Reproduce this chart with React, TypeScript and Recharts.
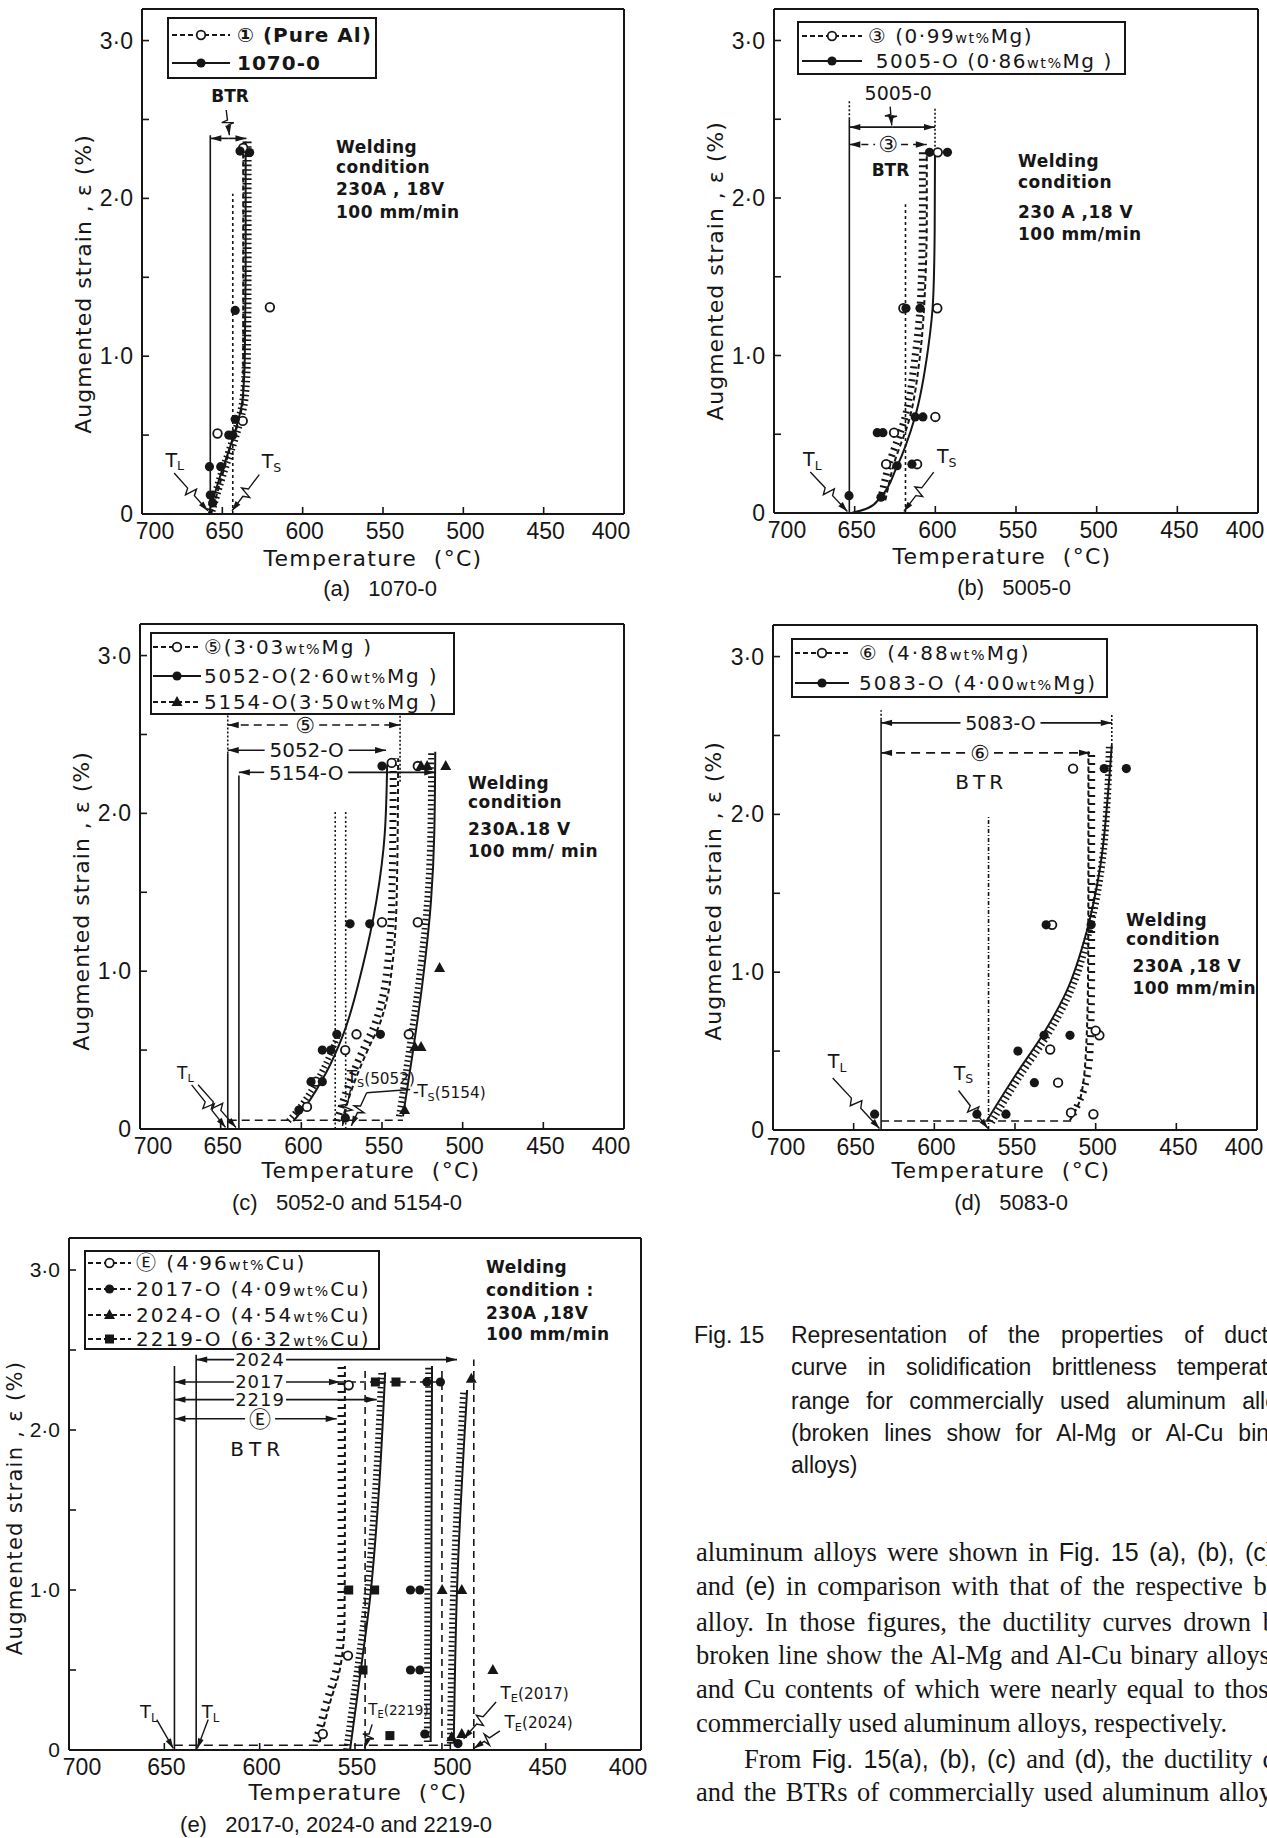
import React from "react";
import { ComposedChart, Line, Scatter, XAxis, YAxis, ReferenceLine, ReferenceDot } from "recharts";

type P = { t: number; e: number };
type Box = { x: number; y: number; w: number; h: number };

const INK = "#161616";
const FIG = "'DejaVu Sans', 'Noto Sans CJK JP', sans-serif";
const SANS = "'Liberation Sans', Arial, sans-serif";
const SERIF = "'Liberation Serif', 'Times New Roman', serif";

const tempTicks = [700, 650, 600, 550, 500, 450, 400];
const strainTicks = [0, 0.5, 1, 1.5, 2, 2.5, 3];

// (a) 1070-O against pure Al
const aPureAl: P[] = [{ t: 653, e: 0.51 }, { t: 637.3, e: 0.59 }, { t: 620.4, e: 1.31 }, { t: 637, e: 2.32 }];
const a1070: P[] = [
  { t: 658, e: 0.3 }, { t: 657.5, e: 0.12 }, { t: 656, e: 0.07 }, { t: 651, e: 0.3 }, { t: 646, e: 0.5 },
  { t: 643.5, e: 0.5 }, { t: 642, e: 0.6 }, { t: 642, e: 1.29 }, { t: 639, e: 2.3 }, { t: 633, e: 2.29 },
];
const aCurve1070: P[] = [
  { t: 658.5, e: 0 }, { t: 655, e: 0.12 }, { t: 651, e: 0.25 }, { t: 646, e: 0.4 }, { t: 641, e: 0.56 },
  { t: 637.5, e: 0.72 }, { t: 636, e: 1.0 }, { t: 635.5, e: 1.6 }, { t: 635.5, e: 2.36 },
];
const aCurvePure: P[] = [
  { t: 657, e: 0 }, { t: 653, e: 0.14 }, { t: 648.5, e: 0.3 }, { t: 644, e: 0.46 }, { t: 639.5, e: 0.6 },
  { t: 637, e: 0.75 }, { t: 637, e: 1.2 }, { t: 637, e: 2.3 },
];
const aHatch: P[] = [
  { t: 657, e: 0.02 }, { t: 653.5, e: 0.14 }, { t: 649.5, e: 0.27 }, { t: 644.5, e: 0.42 }, { t: 640, e: 0.57 },
  { t: 636.5, e: 0.73 }, { t: 635, e: 1.0 }, { t: 634.6, e: 1.6 }, { t: 634.6, e: 2.38 },
];

// (b) 5005-O against alloy 3
const bBin: P[] = [
  { t: 625.6, e: 0.51 }, { t: 630.5, e: 0.31 }, { t: 611.3, e: 0.31 }, { t: 600, e: 0.61 },
  { t: 598.8, e: 1.3 }, { t: 598.5, e: 2.29 }, { t: 619.8, e: 1.3 },
];
const b5005: P[] = [
  { t: 653.5, e: 0.11 }, { t: 633.7, e: 0.1 }, { t: 623.7, e: 0.3 }, { t: 614.5, e: 0.31 }, { t: 636, e: 0.51 },
  { t: 632.5, e: 0.51 }, { t: 618.2, e: 1.3 }, { t: 609.5, e: 1.3 }, { t: 612.5, e: 0.61 }, { t: 607.7, e: 0.61 },
  { t: 603.6, e: 2.29 }, { t: 592.5, e: 2.29 },
];
const bCurve5005: P[] = [
  { t: 652, e: 0 }, { t: 642, e: 0.03 }, { t: 634, e: 0.1 }, { t: 624, e: 0.29 }, { t: 612.6, e: 0.61 },
  { t: 604.4, e: 1.05 }, { t: 601.3, e: 1.37 }, { t: 600.4, e: 1.8 }, { t: 600.2, e: 2.3 },
];
const bCurveBin: P[] = [
  { t: 631, e: 0.08 }, { t: 626, e: 0.3 }, { t: 616, e: 0.6 }, { t: 609.5, e: 1.0 }, { t: 606.5, e: 1.4 },
  { t: 605.3, e: 1.9 }, { t: 605.3, e: 2.3 },
];
const bHatchBin: P[] = [
  { t: 634, e: 0.08 }, { t: 629, e: 0.3 }, { t: 619, e: 0.6 }, { t: 612.5, e: 1.0 }, { t: 609, e: 1.4 },
  { t: 608, e: 1.9 }, { t: 608, e: 2.3 },
];

// (c) 5052-O and 5154-O against alloy 5
const cBin: P[] = [
  { t: 596.5, e: 0.14 }, { t: 591, e: 0.3 }, { t: 572.8, e: 0.5 }, { t: 565.8, e: 0.6 }, { t: 533.4, e: 0.6 },
  { t: 550, e: 1.31 }, { t: 527.8, e: 1.31 }, { t: 544, e: 2.32 }, { t: 527.8, e: 2.3 },
];
const c5052: P[] = [
  { t: 601.5, e: 0.12 }, { t: 594, e: 0.3 }, { t: 587, e: 0.3 }, { t: 587, e: 0.5 }, { t: 581.7, e: 0.5 },
  { t: 578, e: 0.6 }, { t: 569.8, e: 1.3 }, { t: 557.6, e: 1.3 }, { t: 551, e: 0.6 }, { t: 550, e: 2.3 },
  { t: 572.7, e: 0.07 },
];
const c5154: P[] = [
  { t: 536, e: 0.12 }, { t: 529.6, e: 0.52 }, { t: 525.8, e: 0.52 }, { t: 514.3, e: 1.02 },
  { t: 525.8, e: 2.3 }, { t: 522, e: 2.3 }, { t: 510.5, e: 2.3 },
];
const cCurve5052: P[] = [
  { t: 605, e: 0.05 }, { t: 597, e: 0.15 }, { t: 585, e: 0.35 }, { t: 574, e: 0.6 }, { t: 562, e: 1.03 },
  { t: 553.4, e: 1.45 }, { t: 548.3, e: 1.87 }, { t: 546.8, e: 2.31 },
];
const cHatch5052: P[] = [{ t: 608, e: 0.05 }, { t: 600, e: 0.15 }, { t: 588, e: 0.35 }, { t: 577, e: 0.6 }];
const cCurveBin: P[] = [
  { t: 575, e: 0.05 }, { t: 567, e: 0.3 }, { t: 558, e: 0.52 }, { t: 552, e: 0.65 }, { t: 547, e: 0.82 },
  { t: 543.5, e: 1.05 }, { t: 541.5, e: 1.3 }, { t: 540.5, e: 1.7 }, { t: 540, e: 2.35 },
];
const cHatchBin: P[] = [
  { t: 578, e: 0.05 }, { t: 570, e: 0.3 }, { t: 561, e: 0.52 }, { t: 555, e: 0.65 }, { t: 550, e: 0.82 },
  { t: 546.5, e: 1.05 }, { t: 544.5, e: 1.3 }, { t: 543.5, e: 1.7 }, { t: 543, e: 2.35 },
];
const cCurve5154: P[] = [
  { t: 537, e: 0.08 }, { t: 531, e: 0.48 }, { t: 525, e: 0.92 }, { t: 519.6, e: 1.45 }, { t: 517.6, e: 1.87 },
  { t: 517, e: 2.39 },
];
const cHatch5154: P[] = [
  { t: 539.5, e: 0.08 }, { t: 533.5, e: 0.48 }, { t: 527.5, e: 0.92 }, { t: 522, e: 1.45 }, { t: 520, e: 1.87 },
  { t: 519.5, e: 2.39 },
];

// (d) 5083-O against alloy 6
const dBin: P[] = [
  { t: 523.3, e: 0.3 }, { t: 528.2, e: 0.51 }, { t: 527, e: 1.3 }, { t: 497.7, e: 0.6 }, { t: 500, e: 0.63 },
  { t: 515.3, e: 0.11 }, { t: 501.4, e: 0.1 }, { t: 514, e: 2.29 },
];
const d5083: P[] = [
  { t: 637, e: 0.1 }, { t: 573.6, e: 0.1 }, { t: 555.6, e: 0.1 }, { t: 538, e: 0.3 }, { t: 548.2, e: 0.5 },
  { t: 532, e: 0.6 }, { t: 515.9, e: 0.6 }, { t: 530.7, e: 1.3 }, { t: 502.8, e: 1.3 }, { t: 494.7, e: 2.29 },
  { t: 481, e: 2.29 },
];
const dCurve5083: P[] = [
  { t: 567.4, e: 0.06 }, { t: 548.9, e: 0.36 }, { t: 532.4, e: 0.61 }, { t: 518, e: 0.88 }, { t: 505.5, e: 1.26 },
  { t: 497.3, e: 1.66 }, { t: 492.2, e: 2.15 }, { t: 490, e: 2.44 },
];
const dHatch5083: P[] = [
  { t: 564.5, e: 0.05 }, { t: 546.5, e: 0.35 }, { t: 530, e: 0.6 }, { t: 516, e: 0.87 }, { t: 504, e: 1.26 },
  { t: 496.5, e: 1.66 }, { t: 492.5, e: 2.15 }, { t: 491.5, e: 2.44 },
];
const dCurveBin: P[] = [
  { t: 516, e: 0.06 }, { t: 509.5, e: 0.2 }, { t: 506, e: 0.5 }, { t: 504.7, e: 1.0 }, { t: 504.5, e: 1.7 },
  { t: 504.5, e: 2.4 },
];
const dHatchBin: P[] = [
  { t: 514, e: 0.1 }, { t: 507.5, e: 0.25 }, { t: 503.5, e: 0.5 }, { t: 502.5, e: 1.0 }, { t: 502.5, e: 1.7 },
  { t: 502.5, e: 2.4 },
];

// (e) 2017-O, 2024-O, 2219-O against alloy E
const eBin: P[] = [{ t: 566.9, e: 0.1 }, { t: 553.7, e: 0.59 }, { t: 553.3, e: 2.28 }];
const e2017: P[] = [
  { t: 513.4, e: 0.1 }, { t: 520.9, e: 0.5 }, { t: 516, e: 0.5 }, { t: 520.9, e: 1.0 }, { t: 516, e: 1.0 },
  { t: 512.3, e: 2.3 }, { t: 505.2, e: 2.3 }, { t: 496, e: 0.04 },
];
const e2024: P[] = [
  { t: 504.3, e: 1.0 }, { t: 494, e: 1.0 }, { t: 477.7, e: 0.5 }, { t: 489, e: 2.32 }, { t: 494, e: 0.1 },
  { t: 499.3, e: 0.08 },
];
const e2219: P[] = [
  { t: 553.3, e: 1.0 }, { t: 539.7, e: 1.0 }, { t: 545.8, e: 0.5 }, { t: 531.7, e: 0.09 }, { t: 539.3, e: 2.3 },
  { t: 528.5, e: 2.3 },
];
const eCurveBin: P[] = [
  { t: 568.5, e: 0.05 }, { t: 563, e: 0.3 }, { t: 558, e: 0.5 }, { t: 555.5, e: 0.8 }, { t: 555.3, e: 1.5 },
  { t: 555.3, e: 2.4 },
];
const eHatchBin: P[] = [
  { t: 570.5, e: 0.05 }, { t: 565, e: 0.3 }, { t: 560, e: 0.5 }, { t: 557.5, e: 0.8 }, { t: 557.3, e: 1.5 },
  { t: 557.3, e: 2.4 },
];
const eCurve2219: P[] = [
  { t: 552.6, e: 0 }, { t: 550, e: 0.23 }, { t: 546.5, e: 0.54 }, { t: 542, e: 0.96 }, { t: 537.7, e: 1.58 },
  { t: 534.2, e: 2.36 },
];
const eHatch2219: P[] = [
  { t: 554.6, e: 0 }, { t: 552, e: 0.23 }, { t: 548.5, e: 0.54 }, { t: 544, e: 0.96 }, { t: 539.7, e: 1.58 },
  { t: 536.2, e: 2.36 },
];
const eCurve2017: P[] = [{ t: 510.3, e: 0.05 }, { t: 510, e: 1.0 }, { t: 509.6, e: 2.4 }];
const eHatch2017: P[] = [{ t: 512.3, e: 0.05 }, { t: 512, e: 1.0 }, { t: 511.6, e: 2.4 }];
const eCurve2024: P[] = [{ t: 498.2, e: 0.04 }, { t: 496.5, e: 1.0 }, { t: 491.2, e: 2.25 }];
const eHatch2024: P[] = [{ t: 500.2, e: 0.04 }, { t: 498.5, e: 1.0 }, { t: 493.2, e: 2.25 }];

// ---------- marks and helpers ----------
function mark(kind: string, cx: number, cy: number) {
  if (kind === "open") return <circle cx={cx} cy={cy} r={4.3} fill="#fff" stroke={INK} strokeWidth={1.8} />;
  if (kind === "full") return <circle cx={cx} cy={cy} r={4.6} fill={INK} />;
  if (kind === "tri") return <polygon points={`${cx},${cy - 6} ${cx - 5.5},${cy + 4} ${cx + 5.5},${cy + 4}`} fill={INK} />;
  return <rect x={cx - 4.5} y={cy - 4.5} width={9} height={9} fill={INK} />;
}
const shapeOf = (kind: string) => (p: any) => mark(kind, p.cx, p.cy);

const curve = (id: string, data: P[], dash?: string, w = 2) => (
  <Line key={id} data={data} dataKey="e" type="monotoneY" stroke={INK} strokeWidth={w} strokeDasharray={dash}
    dot={false} activeDot={false} isAnimationActive={false} />
);
const hatch = (id: string, data: P[], dash = "1.6 3", w = 8) => curve(id, data, dash, w);
const dots = (id: string, data: P[], kind: string) => (
  <Scatter key={id} data={data} shape={shapeOf(kind)} isAnimationActive={false} />
);
const seg = (id: string, a: number[], b: number[], dash?: string, w = 1.6) => (
  <ReferenceLine key={id} segment={[{ x: a[0], y: a[1] }, { x: b[0], y: b[1] }]} stroke={INK} strokeWidth={w}
    strokeDasharray={dash} ifOverflow="visible" />
);

function head(x: number, y: number, ux: number, uy: number, len = 11, half = 3.2) {
  const bx = x - ux * len, by = y - uy * len;
  const nx = -uy, ny = ux;
  return <polygon points={`${x},${y} ${bx + nx * half},${by + ny * half} ${bx - nx * half},${by - ny * half}`} fill={INK} />;
}

const bracket = (id: string, t0: number, t1: number, e: number, label?: any, tl?: number, gap = 0,
  o: { dash?: string; fs?: number; ls?: number } = {}) => {
  const frac = tl === undefined ? 0.5 : (t0 - tl) / (t0 - t1);
  const shape = (p: any) => {
    const xa = p.x1, xb = p.x2, y = p.y1;
    const xm = xa + (xb - xa) * frac;
    const g = label ? gap / 2 : 0;
    return (
      <g>
        <line x1={xa} y1={y} x2={xm - g} y2={y} stroke={INK} strokeWidth={1.6} strokeDasharray={o.dash} />
        <line x1={xm + g} y1={y} x2={xb} y2={y} stroke={INK} strokeWidth={1.6} strokeDasharray={o.dash} />
        {head(xa, y, -1, 0)}
        {head(xb, y, 1, 0)}
        {label ? (
          <text x={xm} y={y} dy="0.36em" textAnchor="middle" fontSize={o.fs ?? 20} fontFamily={FIG}
            letterSpacing={o.ls ?? 0} fill={INK}>{label}</text>
        ) : null}
      </g>
    );
  };
  return <ReferenceLine key={id} segment={[{ x: t0, y: e }, { x: t1, y: e }]} shape={shape} ifOverflow="visible" />;
};

const leader = (id: string, from: number[], to: number[], zig = true) => {
  const shape = (p: any) => {
    const { x1, y1, x2, y2 } = p;
    const dx = x2 - x1, dy = y2 - y1, L = Math.hypot(dx, dy) || 1;
    const ux = dx / L, uy = dy / L, nx = -uy, ny = ux;
    const pt = (f: number, off = 0) => `${x1 + dx * f + nx * off},${y1 + dy * f + ny * off}`;
    const d = zig
      ? `M${x1},${y1} L${pt(0.4)} L${pt(0.47, 6)} L${pt(0.53, -6)} L${pt(0.6)} L${x2},${y2}`
      : `M${x1},${y1} L${x2},${y2}`;
    return (
      <g>
        <path d={d} fill="none" stroke={INK} strokeWidth={1.4} />
        {head(x2, y2, ux, uy, 10, 3)}
      </g>
    );
  };
  return <ReferenceLine key={id} segment={[{ x: from[0], y: from[1] }, { x: to[0], y: to[1] }]} shape={shape} ifOverflow="visible" />;
};

const note = (id: string, t: number, e: number, content: any,
  o: { anchor?: string; fs?: number; bold?: boolean; ls?: number } = {}) => (
  <ReferenceDot key={id} x={t} y={e} r={0} ifOverflow="visible"
    shape={(p: any) => (
      <text x={p.cx} y={p.cy} textAnchor={(o.anchor ?? "start") as any} fontSize={o.fs ?? 18} fontFamily={FIG}
        fontWeight={o.bold ? 700 : 400} letterSpacing={o.ls ?? 0} fill={INK}>{content}</text>
    )} />
);

const sub = (m: string, s: string, rest?: string) => [
  <tspan key="m">{m}</tspan>,
  <tspan key="s" fontSize="0.66em" dy="0.3em">{s}</tspan>,
  rest ? <tspan key="r" fontSize="0.9em" dy="-0.2em">{rest}</tspan> : null,
];

const XTick = (p: any) => {
  const v = p.payload.value;
  const dx = v === 700 ? 13 : v === 400 ? -13 : 2;
  return (
    <text x={p.x + dx} y={p.y + 25} textAnchor="middle" fontSize={23} fontFamily={SANS} fill={INK}>{v}</text>
  );
};
const makeYTick = (fs: number) => (p: any) => {
  const v = p.payload.value;
  const s = v === 0 ? "0" : Number.isInteger(v) ? `${v}·0` : "";
  if (!s) return <g />;
  return (
    <text x={p.x - 9} y={p.y + fs * 0.35} textAnchor="end" fontSize={fs} fontFamily={SANS} fill={INK}>{s}</text>
  );
};
const YTick = makeYTick(23);
const YTickNarrow = makeYTick(21);

const axisLine = { stroke: INK, strokeWidth: 2 };
const tickLine = { stroke: INK, strokeWidth: 1.6 };

function Panel({ box, items, yTick = YTick }: { box: Box; items: any[]; yTick?: any }) {
  const W = box.w + 70;
  const H = box.h + 50;
  return (
    <div style={{ position: "absolute", left: box.x - 60, top: box.y - 10, width: W, height: H }}>
      <ComposedChart width={W} height={H} margin={{ top: 9, right: 9, bottom: 0, left: 0 }}>
        <XAxis xAxisId={0} type="number" dataKey="t" domain={[400, 700]} reversed allowDataOverflow ticks={tempTicks}
          interval={0} height={40} tickSize={-7} tickMargin={7} tick={XTick} axisLine={axisLine} tickLine={tickLine} />
        <XAxis xAxisId="top" orientation="top" type="number" dataKey="t" domain={[400, 700]} reversed allowDataOverflow
          ticks={tempTicks} interval={0} height={1} tickSize={-7} tick={false} axisLine={axisLine} tickLine={tickLine} />
        <YAxis yAxisId={0} type="number" dataKey="e" domain={[0, 3.2]} allowDataOverflow ticks={strainTicks} interval={0}
          width={60} tickSize={-7} tickMargin={7} tick={yTick} axisLine={axisLine} tickLine={tickLine} />
        <YAxis yAxisId="right" orientation="right" type="number" dataKey="e" domain={[0, 3.2]} allowDataOverflow
          ticks={strainTicks} interval={0} width={1} tickSize={-7} tick={false} axisLine={axisLine} tickLine={tickLine} />
        {items}
      </ComposedChart>
    </div>
  );
}

// ---------- panel contents ----------
const itemsA = [
  hatch("ah", aHatch, "1.6 3", 9),
  curve("ap", aCurvePure, "5 3"),
  curve("ac", aCurve1070),
  seg("atl", [657.5, 0], [657.5, 2.4]),
  seg("ats", [643.5, 0], [643.5, 2.03], "3 3"),
  bracket("ab", 657.5, 635, 2.38),
  note("abtr", 645.2, 2.61, "BTR", { anchor: "middle", fs: 17, bold: true }),
  leader("abl", [647.6, 2.56], [645.6, 2.4]),
  note("atlt", 685.4, 0.3, sub("T", "L"), { fs: 19 }),
  leader("atll", [680, 0.26], [659, 0.02]),
  note("atst", 625.5, 0.29, sub("T", "S"), { fs: 19 }),
  leader("atsl", [627, 0.25], [644, 0.02]),
  dots("aop", aPureAl, "open"),
  dots("afu", a1070, "full"),
];

const itemsB = [
  hatch("bh", bHatchBin, "2 4.5", 7),
  curve("bbn", bCurveBin, "5 3"),
  curve("bc", bCurve5005),
  seg("btl", [653.3, 0], [653.3, 2.5]),
  seg("btl2", [653.3, 2.5], [653.3, 2.62], "2 2"),
  seg("bend", [600.2, 2.3], [600.2, 2.58], "2 2"),
  seg("bts", [618.5, 0], [618.5, 1.96], "3 3"),
  bracket("bb1", 653.3, 600.2, 2.45),
  note("b5005", 623, 2.62, "5005-0", { anchor: "middle", fs: 19 }),
  leader("b5005l", [628, 2.58], [627, 2.46]),
  bracket("bb2", 653.3, 605.3, 2.34, "③", 629.3, 26, { dash: "7 5", fs: 22 }),
  note("bbtr", 627.8, 2.14, "BTR", { anchor: "middle", fs: 17, bold: true }),
  note("btlt", 682, 0.3, sub("T", "L"), { fs: 19 }),
  leader("btll", [677.5, 0.26], [654.5, 0.01]),
  note("btst", 599, 0.315, sub("T", "S"), { fs: 19 }),
  leader("btsl", [601, 0.26], [619.5, 0.01]),
  dots("bop", bBin, "open"),
  dots("bfu", b5005, "full"),
];

const itemsC = [
  hatch("ch1", cHatch5052, "1.6 3", 6),
  hatch("ch2", cHatchBin, "2 5", 7),
  hatch("ch3", cHatch5154, "1.6 3", 6),
  curve("cc1", cCurve5052),
  curve("cc2", cCurveBin, "5 3"),
  curve("cc3", cCurve5154),
  seg("ctl1", [645.6, 0], [645.6, 2.38]),
  seg("ctl1d", [645.6, 2.38], [645.6, 2.62], "2 2"),
  seg("ctl2", [638.7, 0], [638.7, 2.24]),
  seg("cend", [538.8, 2.2], [538.8, 2.62], "2 2"),
  seg("cts1", [579, 0], [579, 2.01], "2 2.5"),
  seg("cts2", [572.5, 0], [572.5, 2.01], "2 2.5"),
  seg("cbase", [645, 0.055], [537, 0.055], "8 5"),
  bracket("cb1", 645.6, 538.8, 2.56, "⑤", 597.6, 28, { dash: "8 5", fs: 22 }),
  bracket("cb2", 645.6, 547.5, 2.4, "5052-O", 596.7, 84),
  bracket("cb3", 638.7, 517, 2.26, "5154-O", 597, 84),
  note("ctlt", 677, 0.32, sub("T", "L"), { fs: 17 }),
  leader("ctll1", [668, 0.28], [647, 0.01]),
  leader("ctll2", [664, 0.28], [640.5, 0.01]),
  note("cts1t", 571.9, 0.29, sub("T", "S", "(5052)"), { fs: 17 }),
  leader("cts1l", [569.5, 0.25], [574.5, 0.02]),
  note("cts2t", 531, 0.2, ["-", ...sub("T", "S", "(5154)")], { fs: 17 }),
  seg("cts2h", [532.6, 0.25], [559.5, 0.23], undefined, 1.4),
  leader("cts2l", [559.5, 0.23], [569, 0.02]),
  dots("cop", cBin, "open"),
  dots("cfu", c5052, "full"),
  dots("ctr", c5154, "tri"),
];

const itemsD = [
  hatch("dh1", dHatch5083, "1.6 3", 7),
  hatch("dh2", dHatchBin, "2 6", 7),
  curve("dc1", dCurve5083),
  curve("dc2", dCurveBin, "5 3"),
  seg("dtl", [633, 0], [633, 2.6]),
  seg("dtld", [633, 2.6], [633, 2.66], "2 2"),
  seg("dend", [490, 2.44], [490, 2.64], "2 2"),
  seg("dts", [566.4, 0], [566.4, 1.99], "4 2 1 2"),
  seg("dbase", [633, 0.057], [515, 0.057], "8 5"),
  bracket("db1", 633, 490, 2.58, "5083-O", 559, 80, { fs: 19 }),
  bracket("db2", 633, 503.5, 2.39, "⑥", 571.7, 28, { dash: "9 6", fs: 22 }),
  note("dbtr", 571, 2.16, "BTR", { anchor: "middle", fs: 20, ls: 4 }),
  note("dtlt", 666, 0.39, sub("T", "L"), { fs: 19 }),
  leader("dtll", [663, 0.33], [634, 0.01]),
  note("dtst", 588, 0.32, sub("T", "S"), { fs: 19 }),
  leader("dtsl", [585, 0.25], [566.8, 0.01]),
  dots("dop", dBin, "open"),
  dots("dfu", d5083, "full"),
];

const itemsE = [
  hatch("eh0", eHatchBin, "2 6", 7),
  hatch("eh1", eHatch2219, "1.6 3", 6),
  hatch("eh2", eHatch2017, "1.6 3", 6),
  hatch("eh3", eHatch2024, "1.6 3", 6),
  curve("ec0", eCurveBin, "5 3"),
  curve("ec1", eCurve2219),
  curve("ec2", eCurve2017),
  curve("ec3", eCurve2024),
  seg("etl1", [644.7, 0], [644.7, 2.4]),
  seg("etl2", [633.3, 0], [633.3, 2.47]),
  seg("ete1", [544.7, 0], [544.7, 2.38], "7 5"),
  seg("ete2", [504.4, 0], [504.4, 2.38], "7 5"),
  seg("ete3", [487.7, 0], [487.7, 2.44], "7 5"),
  seg("ebase", [645, 0.03], [500, 0.03], "9 6"),
  seg("e2017x", [557.9, 2.3], [505, 2.3], "6 4"),
  bracket("eb1", 633.3, 496.5, 2.44, "2024", 599.8, 52, { fs: 18, ls: 1 }),
  bracket("eb2", 644.7, 557.9, 2.3, "2017", 599.8, 52, { fs: 18, ls: 1 }),
  bracket("eb3", 644.7, 538.6, 2.19, "2219", 599.8, 52, { fs: 18, ls: 1 }),
  bracket("eb4", 644.7, 559.6, 2.07, "Ⓔ", 599.8, 30, { fs: 22 }),
  note("ebtr", 601, 1.84, "BTR", { anchor: "middle", fs: 20, ls: 5 }),
  note("etl1t", 662.8, 0.2, sub("T", "L"), { fs: 18 }),
  leader("etl1l", [654, 0.19], [645.3, 0.01], false),
  note("etl2t", 630.4, 0.2, sub("T", "L"), { fs: 18 }),
  leader("etl2l", [627, 0.19], [632.7, 0.01], false),
  note("ete1t", 543, 0.22, sub("T", "E", "(2219)"), { fs: 15 }),
  leader("ete1l", [541, 0.16], [545, 0.01]),
  note("ete2t", 473.7, 0.32, sub("T", "E", "(2017)"), { fs: 17 }),
  leader("ete2l", [476, 0.3], [493, 0.07]),
  note("ete3t", 471.6, 0.14, sub("T", "E", "(2024)"), { fs: 17 }),
  leader("ete3l", [474, 0.12], [487.7, 0.01]),
  dots("eop", eBin, "open"),
  dots("efu", e2017, "full"),
  dots("etr", e2024, "tri"),
  dots("esq", e2219, "sq"),
];

// ---------- HTML text helpers ----------
const Txt = ({ x, y, children, fs = 20, center = true, ls = 0, weight = 400, family = FIG, rotate = false }: any) => (
  <div
    style={{
      position: "absolute", left: x, top: y, whiteSpace: "pre", fontSize: fs, fontFamily: family, fontWeight: weight,
      letterSpacing: ls, color: INK, lineHeight: 1,
      transform: `translate(${center ? "-50%" : "0"}, -50%)${rotate ? " rotate(-90deg)" : ""}`,
    }}
  >
    {children}
  </div>
);

const wt = (a: string, b: string, tail = "") => (
  <>({a}<span style={{ fontSize: "0.72em" }}>wt%</span>{b}{tail})</>
);

type Row = { kind: string; dashed: boolean; text: any };
function LegendBox({ x, y, w, h, rows, ys, sw, sx, tx, fs = 20, bold = false, ls = 1 }: any) {
  return (
    <div style={{ position: "absolute", left: x, top: y, width: w, height: h, border: `2px solid ${INK}`, boxSizing: "border-box", background: "#fff" }}>
      {(rows as Row[]).map((r, i) => (
        <div key={i} style={{ position: "absolute", left: 0, top: ys[i] - 14, height: 24, width: w - 4 }}>
          <svg style={{ position: "absolute", left: sx, top: 2 }} width={sw} height={20}>
            <line x1={0} y1={10} x2={sw} y2={10} stroke={INK} strokeWidth={2} strokeDasharray={r.dashed ? "5 3" : undefined} />
            {mark(r.kind, sw / 2, 10)}
          </svg>
          <div style={{ position: "absolute", left: tx, top: 0, lineHeight: "24px", fontSize: fs, fontFamily: FIG, fontWeight: bold ? 700 : 400, letterSpacing: ls, whiteSpace: "pre", color: INK }}>
            {r.text}
          </div>
        </div>
      ))}
    </div>
  );
}

function Welding({ x, ys, lines, fs = 17, weight = 600 }: any) {
  return (
    <>
      {(lines as string[]).map((l, i) => (
        <Txt key={i} x={x} y={ys[i]} fs={fs} center={false} weight={weight} ls={0.5}>{l}</Txt>
      ))}
    </>
  );
}

const YT = "Augmented strain , ε (%)";
const XT = "Temperature  (°C)";

const captionLines = [
  "Representation of the properties of ductility",
  "curve in solidification brittleness temperature",
  "range for commercially used aluminum alloys",
  "(broken lines show for Al-Mg or Al-Cu binary",
];
const captionYs = [1335, 1367, 1401, 1433, 1465];

const F = ({ children }: any) => <span style={{ fontFamily: SANS, fontSize: 25 }}>{children}</span>;

export default function App() {
  const bodyStyle: any = { position: "absolute", left: 696, whiteSpace: "pre", fontFamily: SERIF, fontSize: 26.5, lineHeight: "34px", color: INK };
  return (
    <div style={{ position: "relative", width: 1267, height: 1838, overflow: "hidden", background: "#fff" }}>
      <style>{"body{margin:0;background:#fff}"}</style>

      <Panel box={{ x: 142, y: 9, w: 482, h: 505 }} items={itemsA} />
      <Panel box={{ x: 774, y: 9, w: 484, h: 504 }} items={itemsB} />
      <Panel box={{ x: 140, y: 624, w: 484, h: 505 }} items={itemsC} />
      <Panel box={{ x: 773, y: 625, w: 484, h: 505 }} items={itemsD} />
      <Panel box={{ x: 69, y: 1238, w: 572, h: 512 }} items={itemsE} yTick={YTickNarrow} />

      {/* axis titles */}
      <Txt x={84} y={284} rotate fs={22} ls={1}>{YT}</Txt>
      <Txt x={716} y={271} rotate fs={22} ls={1}>{YT}</Txt>
      <Txt x={82} y={901} rotate fs={22} ls={1}>{YT}</Txt>
      <Txt x={714} y={891} rotate fs={22} ls={1}>{YT}</Txt>
      <Txt x={15} y={1508} rotate fs={21} ls={1.3}>{YT}</Txt>
      <Txt x={373} y={559} fs={22} ls={1.3}>{XT}</Txt>
      <Txt x={1002} y={557} fs={22} ls={1.3}>{XT}</Txt>
      <Txt x={371} y={1171} fs={22} ls={1.3}>{XT}</Txt>
      <Txt x={1001} y={1171} fs={22} ls={1.3}>{XT}</Txt>
      <Txt x={358} y={1793} fs={22} ls={1.3}>{XT}</Txt>

      {/* sub-figure captions */}
      <Txt x={380} y={589} fs={22} family={SANS}>{"(a)   1070-0"}</Txt>
      <Txt x={1014} y={588} fs={22} family={SANS}>{"(b)   5005-0"}</Txt>
      <Txt x={347} y={1203} fs={22} family={SANS}>{"(c)   5052-0 and 5154-0"}</Txt>
      <Txt x={1011} y={1203} fs={22} family={SANS}>{"(d)   5083-0"}</Txt>
      <Txt x={336} y={1825} fs={22} family={SANS}>{"(e)   2017-0, 2024-0 and 2219-0"}</Txt>

      {/* legends */}
      <LegendBox x={167} y={17} w={210} h={62} ys={[17.5, 46]} sw={58} sx={3} tx={68} bold
        rows={[
          { kind: "open", dashed: true, text: "① (Pure Al)" },
          { kind: "full", dashed: false, text: "1070-0" },
        ]} />
      <LegendBox x={797} y={21} w={329} h={54} ys={[15, 40]} sw={60} sx={3} tx={69} ls={1.5}
        rows={[
          { kind: "open", dashed: true, text: <>③ {wt("0·99", "Mg")}</> },
          { kind: "full", dashed: false, text: <> 5005-O {wt("0·86", "Mg", " ")}</> },
        ]} />
      <LegendBox x={150} y={632} w={305} h={83} ys={[15, 44, 70]} sw={48} sx={1} tx={52} ls={1.8}
        rows={[
          { kind: "open", dashed: true, text: <>⑤{wt("3·03", "Mg", " ")}</> },
          { kind: "full", dashed: false, text: <>5052-O{wt("2·60", "Mg", " ")}</> },
          { kind: "tri", dashed: true, text: <>5154-O{wt("3·50", "Mg", " ")}</> },
        ]} />
      <LegendBox x={791} y={638} w={317} h={60} ys={[15, 45]} sw={54} sx={2} tx={66} ls={2}
        rows={[
          { kind: "open", dashed: true, text: <>⑥ {wt("4·88", "Mg")}</> },
          { kind: "full", dashed: false, text: <>5083-O {wt("4·00", "Mg")}</> },
        ]} />
      <LegendBox x={84} y={1250} w={296} h={100} ys={[13, 39, 65, 89]} sw={43} sx={2} tx={50} ls={2}
        rows={[
          { kind: "open", dashed: true, text: <>Ⓔ {wt("4·96", "Cu")}</> },
          { kind: "full", dashed: true, text: <>2017-O {wt("4·09", "Cu")}</> },
          { kind: "tri", dashed: true, text: <>2024-O {wt("4·54", "Cu")}</> },
          { kind: "sq", dashed: true, text: <>2219-O {wt("6·32", "Cu")}</> },
        ]} />

      {/* welding conditions */}
      <Welding x={336} ys={[147, 166.5, 189.4, 212.4]} lines={["Welding", "condition", "230A , 18V", "100 mm/min"]} />
      <Welding x={1018} ys={[160.7, 181.8, 212.4, 233.5]} lines={["Welding", "condition", "230 A ,18 V", "100 mm/min"]} />
      <Welding x={468} ys={[782.7, 802.4, 829.3, 851]} lines={["Welding", "condition", "230A.18 V", "100 mm/ min"]} />
      <Welding x={1126} ys={[919.5, 939.3, 965.8, 987.5]} lines={["Welding", "condition", " 230A ,18 V", " 100 mm/min"]} />
      <Welding x={486} ys={[1267.3, 1290.2, 1312.6, 1334.3]} lines={["Welding", "condition :", "230A ,18V", "100 mm/min"]} />

      {/* figure caption */}
      <div style={{ position: "absolute", left: 694, top: captionYs[0] - 16, fontFamily: SANS, fontSize: 23, lineHeight: "32px", color: INK }}>Fig. 15</div>
      {captionLines.map((l, i) => (
        <div key={i} style={{ position: "absolute", left: 791, top: captionYs[i] - 16, width: 510, fontFamily: SANS, fontSize: 23, lineHeight: "32px", textAlign: "justify", textAlignLast: "justify", color: INK }}>{l}</div>
      ))}
      <div style={{ position: "absolute", left: 791, top: captionYs[4] - 16, fontFamily: SANS, fontSize: 23, lineHeight: "32px", color: INK }}>alloys)</div>

      {/* body text */}
      <div style={{ ...bodyStyle, top: 1552 - 17, wordSpacing: 3.5 }}>aluminum alloys were shown in <F>Fig. 15 (a), (b), (c),</F></div>
      <div style={{ ...bodyStyle, top: 1586 - 17, wordSpacing: 4 }}>and <F>(e)</F> in comparison with that of the respective binary</div>
      <div style={{ ...bodyStyle, top: 1622 - 17, wordSpacing: 5 }}>alloy. In those figures, the ductility curves drown by</div>
      <div style={{ ...bodyStyle, top: 1655 - 17, wordSpacing: 1.8 }}>broken line show the Al-Mg and Al-Cu binary alloys, Mg</div>
      <div style={{ ...bodyStyle, top: 1689 - 17, wordSpacing: 3.2 }}>and Cu contents of which were nearly equal to those of</div>
      <div style={{ ...bodyStyle, top: 1723 - 17 }}>commercially used aluminum alloys, respectively.</div>
      <div style={{ ...bodyStyle, left: 744, top: 1759 - 17, wordSpacing: 3.4 }}>From <F>Fig. 15(a), (b), (c)</F> and <F>(d)</F>, the ductility curves</div>
      <div style={{ ...bodyStyle, top: 1792 - 17, wordSpacing: 2.9 }}>and the BTRs of commercially used aluminum alloys were</div>
    </div>
  );
}
